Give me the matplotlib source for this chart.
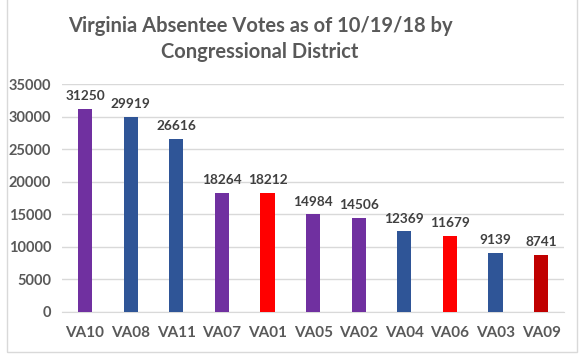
import matplotlib
matplotlib.use("Agg")
import matplotlib.pyplot as plt
from matplotlib.patches import Rectangle

districts = ["VA10", "VA08", "VA11", "VA07", "VA01", "VA05", "VA02", "VA04", "VA06", "VA03", "VA09"]
votes = [31250, 29919, 26616, 18264, 18212, 14984, 14506, 12369, 11679, 9139, 8741]
bar_colors = ["#7030A0", "#2F5597", "#2F5597", "#7030A0", "#FF0000", "#7030A0",
              "#7030A0", "#2F5597", "#FF0000", "#2F5597", "#C00000"]
yticks = [0, 5000, 10000, 15000, 20000, 25000, 30000, 35000]
title = "Virginia Absentee Votes as of 10/19/18 by\nCongressional District"

plt.rcParams['font.family'] = ['Lato', 'DejaVu Sans']

fig = plt.figure(figsize=(5.82, 3.56), dpi=100)
ax = fig.add_axes([0.107, 0.1236, 0.862, 0.64])

x = list(range(len(districts)))
ax.bar(x, votes, width=0.31, color=bar_colors, zorder=3)
for xi, v in zip(x, votes):
    ax.annotate(str(v), (xi, v), xytext=(0, 5), textcoords="offset points",
                ha="center", va="bottom", fontsize=9.8, fontweight="bold", color="#404040")

ax.set_ylim(0, 35000)
ax.set_xlim(-0.5, len(districts) - 0.5)
ax.set_yticks(yticks)
ax.set_yticklabels([str(t) for t in yticks])
ax.set_xticks(x)
ax.set_xticklabels(districts)
ax.grid(axis="y", color="#D9D9D9", linewidth=1, zorder=0)
for s in ["top", "right", "left"]:
    ax.spines[s].set_visible(False)
ax.spines["bottom"].set_color("#D9D9D9")
ax.tick_params(axis="both", length=0, labelcolor="#595959")
ax.tick_params(axis="x", pad=10, labelsize=11)
ax.tick_params(axis="y", pad=8, labelsize=10.5)
for lbl in ax.get_xticklabels() + ax.get_yticklabels():
    lbl.set_fontweight("bold")

fig.text(0.447, 0.955, title, ha="center", va="top", fontsize=14.5, fontweight="bold",
         color="#595959", linespacing=1.35)

fig.patches.append(Rectangle((0.012, 0.012), 0.98, 1.2, transform=fig.transFigure,
                             fill=False, edgecolor="#D9D9D9", linewidth=1))

fig.savefig("out.png", dpi=100)
